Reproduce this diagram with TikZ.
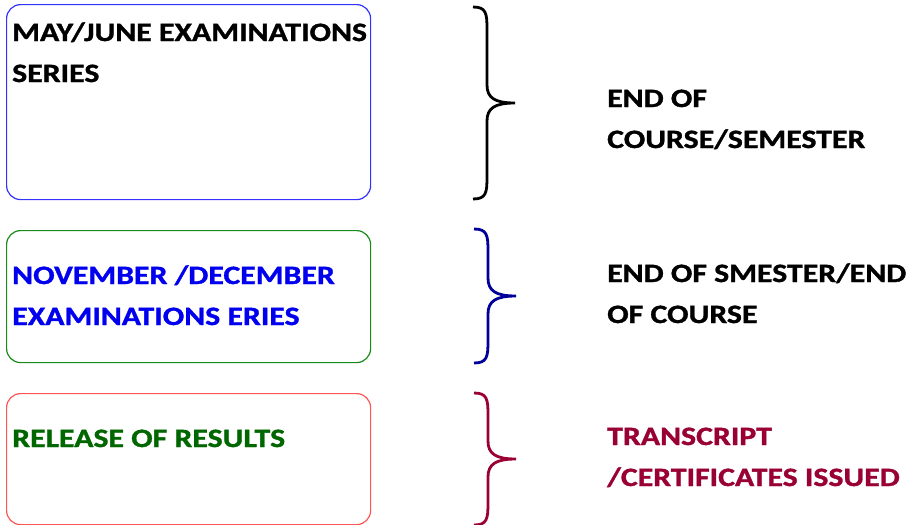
\documentclass[tikz,border=0pt]{standalone}
\usepackage{fontspec}
\setmainfont{Carlito}[FakeStretch=1.2, BoldFeatures={FakeBold=1.2}]
\definecolor{boxblue}{HTML}{3333FF}
\definecolor{boxgreen}{HTML}{1A8A1A}
\definecolor{boxred}{HTML}{FF5555}
\definecolor{txtblue}{HTML}{0000EE}
\definecolor{txtgreen}{HTML}{006600}
\definecolor{navy}{HTML}{000099}
\definecolor{wine}{HTML}{990033}
\tikzset{
  panel/.style={draw, line width=1.2pt, rounded corners=14pt, minimum width=364pt, inner sep=0pt, anchor=north west},
  lbl/.style={anchor=base west, inner sep=0pt, align=left, font=\fontsize{26.5}{41}\selectfont\bfseries},
  pics/curly/.style={code={
    \draw[line width=2.8pt, pic actions]
      (-42,-#1) .. controls (-29,-#1) and (-28,-#1+6) .. (-28,-#1+22)
      -- (-28,-18) .. controls (-28,-5) and (-20,0) .. (0,0)
      .. controls (-20,0) and (-28,5) .. (-28,18)
      -- (-28,#1-22) .. controls (-28,#1-6) and (-29,#1) .. (-42,#1);
  }}
}
\begin{document}
\begin{tikzpicture}[x=1pt,y=-1pt]
\useasboundingbox (0,0) rectangle (911,525);
% boxes
\node[panel, draw=boxblue, minimum height=195pt] (b1) at (6,4) {};
\node[panel, draw=boxgreen, minimum height=132pt] (b2) at (6,230) {};
\node[panel, draw=boxred, minimum height=131pt] (b3) at (6,393) {};
% box texts (anchor = baseline of last line)
\node[lbl] (t1) at (12,82) {MAY/JUNE EXAMINATIONS\\SERIES};
\node[lbl, text=txtblue] (t2) at (12,325) {NOVEMBER /DECEMBER\\EXAMINATIONS ERIES};
\node[lbl, text=txtgreen] (t3) at (12,447) {RELEASE OF RESULTS};
% braces
\pic[draw=black] at (515,103) {curly=96};
\pic[draw=navy] at (516,296) {curly=67};
\pic[draw=wine] at (516,459) {curly=66};
% right texts
\node[lbl] (r1) at (607,148) {END OF\\COURSE/SEMESTER};
\node[lbl] (r2) at (607,323) {END OF SMESTER/END\\OF COURSE};
\node[lbl, text=wine] (r3) at (607,486) {TRANSCRIPT\\/CERTIFICATES ISSUED};
\end{tikzpicture}
\end{document}
